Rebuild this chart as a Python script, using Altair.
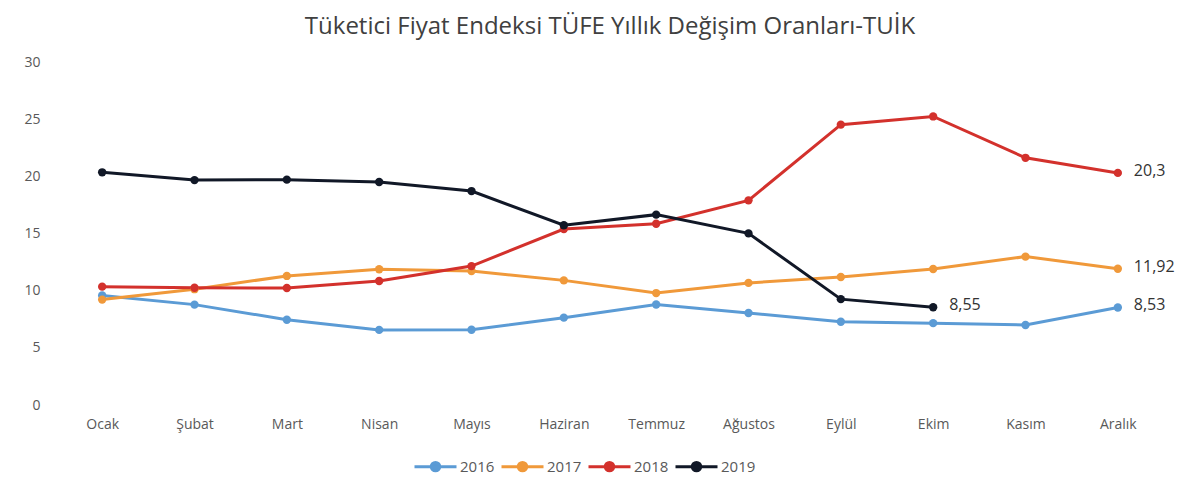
import altair as alt
import pandas as pd

months = ["Ocak", "Şubat", "Mart", "Nisan", "Mayıs", "Haziran", "Temmuz",
          "Ağustos", "Eylül", "Ekim", "Kasım", "Aralık"]
y2016 = [9.58, 8.78, 7.46, 6.57, 6.58, 7.64, 8.79, 8.05, 7.28, 7.16, 7.00, 8.53]
y2017 = [9.22, 10.13, 11.29, 11.87, 11.72, 10.90, 9.79, 10.68, 11.20, 11.90, 12.98, 11.92]
y2018 = [10.35, 10.26, 10.23, 10.85, 12.15, 15.39, 15.85, 17.90, 24.52, 25.24, 21.62, 20.30]
y2019 = [20.35, 19.67, 19.71, 19.50, 18.71, 15.72, 16.65, 15.01, 9.26, 8.55]
years = ["2016", "2017", "2018", "2019"]
colors = ["#5B9BD5", "#F0993A", "#D3312C", "#111827"]

label_years = ["2018", "2017", "2016", "2019"]
label_months = ["Aralık", "Aralık", "Aralık", "Ekim"]
label_values = [20.30, 11.92, 8.53, 8.55]
label_texts = ["20,3", "11,92", "8,53", "8,55"]

rows = []
for yr, vals in zip(years, [y2016, y2017, y2018, y2019]):
    for m, v in zip(months, vals):
        rows.append({"Ay": m, "Yıl": yr, "Değer": v})
df = pd.DataFrame(rows)
lab = pd.DataFrame({"Ay": label_months, "Yıl": label_years,
                    "Değer": label_values, "Etiket": label_texts})

FONT = "Open Sans"
x = alt.X("Ay:N", sort=months, title=None,
          scale=alt.Scale(type="point", padding=0.5),
          axis=alt.Axis(labelAngle=0, ticks=False, domain=False, grid=False,
                        labelPadding=12, labelFontSize=14, labelColor="#595959",
                        labelFont=FONT))
y = alt.Y("Değer:Q", title=None,
          scale=alt.Scale(domain=[0, 30]),
          axis=alt.Axis(values=[0, 5, 10, 15, 20, 25, 30], ticks=False, domain=False,
                        grid=False, labelPadding=16, labelFontSize=14,
                        labelColor="#595959", labelFont=FONT))
color = alt.Color("Yıl:N", scale=alt.Scale(domain=years, range=colors),
                  legend=alt.Legend(orient="none", direction="horizontal",
                                    legendX=357, legendY=382, title=None, padding=0,
                                    labelFontSize=15, labelColor="#595959",
                                    labelFont=FONT, columnPadding=0, labelOffset=2,
                                    symbolType="M-1,0L1,0M-0.2,0A0.2,0.2,0,1,0,0.2,0A0.2,0.2,0,1,0,-0.2,0",
                                    symbolSize=1764, symbolStrokeWidth=3))

lines = alt.Chart(df).mark_line(strokeWidth=3, point=alt.OverlayMarkDef(size=70, filled=True, opacity=1)).encode(
    x=x, y=y, color=color, order=alt.Order("Yıl:N"))

texts = alt.Chart(lab).mark_text(align="left", dx=16, dy=-2, fontSize=16,
                                 font=FONT, color="#333333").encode(
    x=alt.X("Ay:N", sort=months, scale=alt.Scale(type="point", padding=0.5)),
    y=alt.Y("Değer:Q"),
    text="Etiket:N")

chart = alt.layer(lines, texts).properties(
    width=1108, height=343,
    title=alt.TitleParams("Tüketici Fiyat Endeksi TÜFE Yıllık Değişim Oranları-TUİK",
                          fontSize=24, font=FONT, fontWeight="normal",
                          color="#404040", anchor="middle", offset=16),
    autosize=alt.AutoSizeParams(type="none"),
    padding={"left": 48, "top": 54, "right": 16, "bottom": 83},
).configure(background="white").configure_view(strokeWidth=0, stroke=None)

chart.save("out.html", embed_options={"renderer": "svg", "actions": False})
